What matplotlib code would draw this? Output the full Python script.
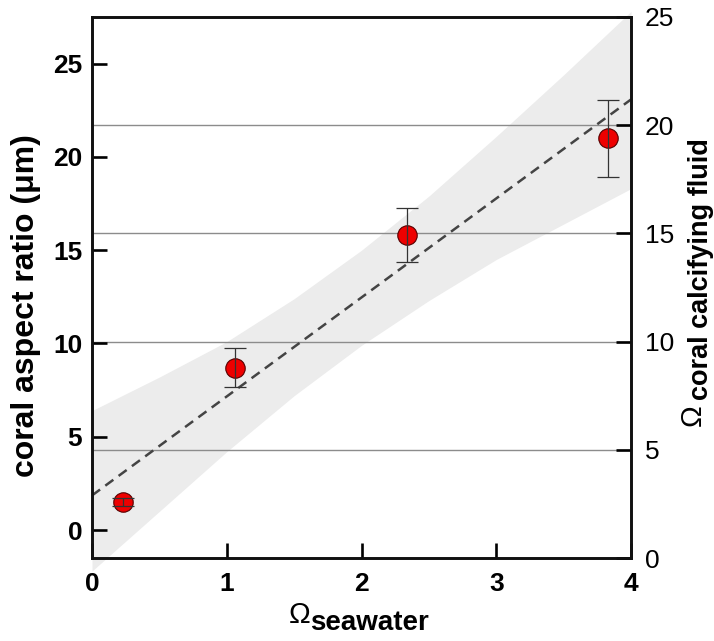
import numpy as np
import matplotlib
matplotlib.use("Agg")
from matplotlib import pyplot as plt

plt.rcParams['font.family'] = ['Liberation Sans', 'DejaVu Sans']

# data
omega_sw = [0.23, 1.06, 2.34, 3.83]
aspect = [1.5, 8.7, 15.8, 21.0]
aspect_err = [0.2, 1.05, 1.45, 2.05]

# confidence band edges (left axis units)
band_x = [0.0, 0.5, 1.0, 1.5, 2.0, 2.5, 3.0, 3.5, 4.0]
band_lo = [-2.2, 1.0, 4.2, 7.2, 9.9, 12.3, 14.5, 16.4, 18.3]
band_hi = [6.4, 8.2, 10.1, 12.4, 15.0, 17.9, 21.1, 24.4, 27.8]

right_ticks = [0, 5, 10, 15, 20, 25]
right_grid = [5, 10, 15, 20]
left_ticks = [0, 5, 10, 15, 20, 25]
x_ticks = [0, 1, 2, 3, 4]

fig = plt.figure(figsize=(7.14, 6.41), dpi=100)
ax = fig.add_axes([92 / 714, 1 - 558 / 641, (631 - 92) / 714, (558 - 17) / 641])
ax2 = ax.twinx()

ax.set_xlim(0, 4)
ax.set_ylim(-1.5, 27.5)
ax2.set_ylim(0, 25)

# band
ax.fill_between(band_x, band_lo, band_hi, color='#ececec', lw=0, zorder=1, clip_on=False)

# horizontal lines from the right axis
ax.hlines(right_grid, 0, 4, colors='#8c8c8c', lw=1.0, transform=ax2.transData, zorder=1.5)

# regression line
k, b = np.polyfit(omega_sw, aspect, 1)
xx = np.array([0, 4])
ax.plot(xx, k * xx + b, ls=(0, (4, 2.6)), color='#444444', lw=1.8, zorder=2)

# points
ax.plot(omega_sw, aspect, 'o', ms=14, mfc='#ee0000', mec='#550000', mew=0.8, zorder=3)
ax.errorbar(omega_sw, aspect, yerr=aspect_err, fmt='none', ecolor='#333333',
            elinewidth=0.9, capsize=8, capthick=0.9, zorder=4)

for a in (ax, ax2):
    for s in a.spines.values():
        s.set_linewidth(1.9)
        s.set_color('#111111')

ax.set_xticks(x_ticks)
ax.set_yticks(left_ticks)
ax2.set_yticks(right_ticks)
ax.tick_params(axis='both', direction='in', length=11, width=1.9, labelsize=19)
ax.tick_params(axis='y', pad=7)
ax.tick_params(axis='x', pad=10)
ax2.tick_params(axis='y', direction='in', length=11, width=1.9, labelsize=19, pad=10)
for t in ax.get_xticklabels() + ax.get_yticklabels():
    t.set_fontweight('bold')

ax.set_ylabel('coral aspect ratio (\u03bcm)', fontsize=23, fontweight='bold')
ax.yaxis.set_label_coords(-0.095, 0.466)

# x label: Omega with subscript
fig.text(300 / 714, 1 - 615 / 641, '\u03a9', fontsize=21, ha='center', va='center')
fig.text(310 / 714, 1 - 623 / 641, 'seawater', fontsize=20, fontweight='bold',
         ha='left', va='center')

# right label
fig.text(693 / 714, 1 - 415 / 641, '\u03a9', fontsize=21, rotation=90,
         ha='center', va='center')
fig.text(701 / 714, 1 - 400 / 641, 'coral calcifying fluid', fontsize=19.5,
         fontweight='bold', rotation=90, ha='center', va='bottom')

fig.savefig('out.png', dpi=100)
